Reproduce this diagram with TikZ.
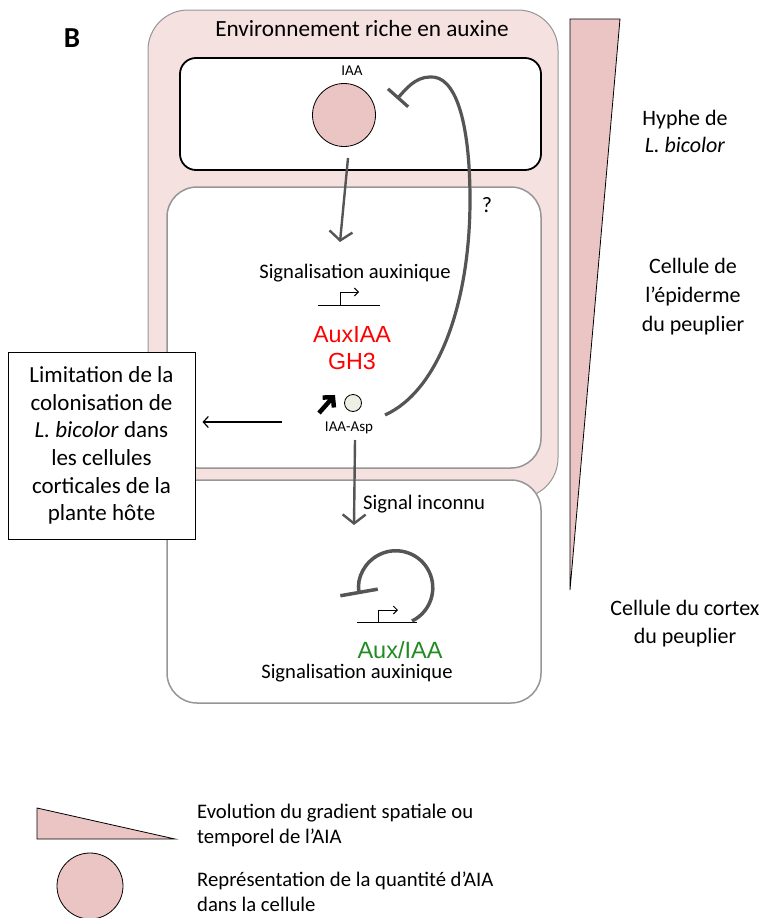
\documentclass[tikz,border=0pt]{standalone}
\usepackage{fontspec}
\setmainfont{Carlito}
\newfontfamily\arialf{Liberation Sans}
\usetikzlibrary{arrows.meta}
\definecolor{pinkbg}{RGB}{245,225,224}
\definecolor{pinkfill}{RGB}{235,196,196}
\definecolor{cellgray}{RGB}{150,150,150}
\definecolor{linegray}{RGB}{85,85,85}
\definecolor{redtxt}{RGB}{255,0,0}
\definecolor{greentxt}{RGB}{34,139,34}
\definecolor{aspfill}{RGB}{238,238,228}
\begin{document}
\begin{tikzpicture}[x=1pt,y=-1pt,
  txt/.style={inner sep=0pt, align=center},
  cellbox/.style={draw=cellgray, line width=1.5pt, fill=white, rounded corners=30pt},
  grayarrow/.style={draw=linegray, line width=2.4pt, -{Straight Barb[length=9pt,width=23pt]}},
  inhib/.style={draw=linegray, line width=3.2pt, -{Bar[width=27pt]}},
  gene/.style={draw=black, line width=0.9pt},
  prom/.style={draw=black, line width=1pt, -{Straight Barb[length=4pt,width=8pt]}}
]
\useasboundingbox (0,0) rectangle (767,918);
% outer pink environment
\path[draw=cellgray, fill=pinkbg, line width=1pt, rounded corners=40pt] (148,10) rectangle (558,498);
\node[txt, font=\fontsize{29}{32}\selectfont\bfseries] (lblB) at (72,38) {B};
\node[txt, font=\fontsize{23.2}{27}\selectfont] (env) at (362,29) {Environnement riche en auxine};
% hyphae box
\draw[line width=1.8pt, fill=white, rounded corners=16pt] (180,58) rectangle (541,170);
\node[txt, font=\fontsize{15}{17}\selectfont] (iaalbl) at (352,71) {IAA};
\node[circle, draw, fill=pinkfill, minimum size=63pt, inner sep=0pt, line width=0.8pt] (iaa) at (344,115) {};
% cells
\draw[cellbox] (167,187) rectangle (541,468);
\draw[cellbox] (167,480) rectangle (541,703);
% arrow IAA -> epidermis
\coordinate (a1s) at (348,158);
\coordinate (a1e) at (340,242);
\draw[grayarrow] (a1s) -- (a1e);
% epidermis content
\node[txt, font=\fontsize{20.6}{24}\selectfont] (sig1) at (355,273) {Signalisation auxinique};
\draw[gene] (318,305) -- (380,305);
\draw[prom] (340,305) -- (340,292) -- (359,292);
\node[txt, font=\arialf\fontsize{23.3}{27}\selectfont, text=redtxt] (aux) at (352,348) {AuxIAA\\GH3};
\coordinate (bas) at (319,413);
\coordinate (bae) at (335,395);
\draw[line width=4.5pt, -{Straight Barb[length=7pt,width=15pt]}] (bas) -- (bae);
\node[circle, draw, fill=aspfill, minimum size=17pt, inner sep=0pt, line width=0.8pt] (asp) at (353,403) {};
\node[txt, font=\fontsize{15}{17}\selectfont] (asplbl) at (349,428) {IAA-Asp};
% inhibition arc
\coordinate (inhs) at (385,415);
\coordinate (inhe) at (397,99);
\draw[inhib] (inhs) .. controls (440,390) and (470,300) .. (470,200)
  .. controls (470,120) and (455,75) .. (430,77)
  .. controls (415,77) and (405,90) .. (inhe);
\node[txt, font=\fontsize{22}{26}\selectfont] (q) at (487,205) {?};
% limitation box
\node[draw, line width=1pt, fill=white, minimum width=187pt, minimum height=187pt, inner sep=0pt, align=center, font=\fontsize{23}{27.6}\selectfont] (lim) at (101.5,445.5) {Limitation de la\\colonisation de\\\textit{L. bicolor} dans\\les cellules\\corticales de la\\plante hôte};
\coordinate (las) at (282,422);
\coordinate (lae) at ([xshift=7pt]lim.east |- las);
\draw[line width=1.2pt, -{Straight Barb[length=5pt,width=11pt]}] (las) -- (lae);
% down arrow
\coordinate (a2s) at (355,440);
\coordinate (a2e) at (354,525);
\draw[grayarrow] (a2s) -- (a2e);
\node[txt, anchor=west, font=\fontsize{20.7}{24}\selectfont] (siginc) at (363,504) {Signal inconnu};
% cortex content
\draw[gene] (357,622) -- (417,622);
\draw[prom] (378,622) -- (378,610) -- (398,610);
\coordinate (loops) at (412,621);
\draw[draw=linegray, line width=3.5pt, -{Bar[width=38pt]}] (loops) arc[start angle=64, end angle=-190, radius=37];
\node[txt, font=\arialf\fontsize{23.5}{27}\selectfont, text=greentxt] (auxg) at (400,650) {Aux/IAA};
\node[txt, font=\fontsize{20.6}{24}\selectfont] (sig2) at (357,673) {Signalisation auxinique};
% right gradient
\draw[fill=pinkfill, line width=0.8pt] (570,19) -- (620,19) -- (570,590) -- cycle;
\node[txt, font=\fontsize{22}{27}\selectfont] (hyphe) at (685,131) {Hyphe de\\\textit{L. bicolor}};
\node[txt, font=\fontsize{22}{29}\selectfont] (epi) at (693,297) {Cellule de\\l’épiderme\\du peuplier};
\node[txt, font=\fontsize{22}{28}\selectfont] (cor) at (685,624) {Cellule du cortex\\du peuplier};
% legend
\draw[fill=pinkfill, line width=0.8pt] (37,808) -- (37,839) -- (175,839) -- cycle;
\node[inner sep=0pt, anchor=west, align=left, font=\fontsize{20.7}{25}\selectfont] (leg1) at (197,825) {Evolution du gradient spatiale ou\\temporel de l’AIA};
\node[circle, draw, fill=pinkfill, minimum size=66pt, inner sep=0pt, line width=0.8pt] (legc) at (90,886) {};
\node[inner sep=0pt, anchor=west, align=left, font=\fontsize{20.7}{25}\selectfont] (leg2) at (197,892) {Représentation de la quantité d’AIA\\dans la cellule};
\end{tikzpicture}
\end{document}
